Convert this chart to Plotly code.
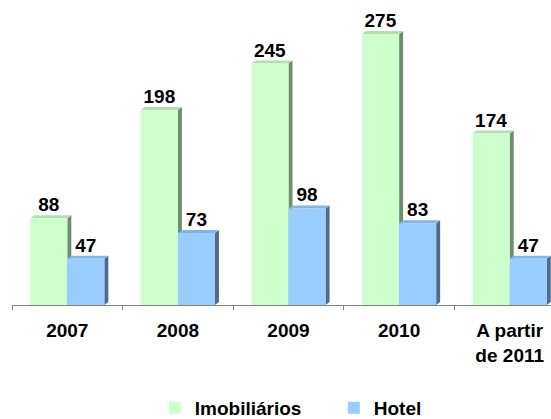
import plotly.graph_objects as go

# Chart data
categories = ["2007", "2008", "2009", "2010", "A partir<br>de 2011"]
imobiliarios = [88, 198, 245, 275, 174]
hotel = [47, 73, 98, 83, 47]

series_names = ["Imobiliários", "Hotel"]
face_colors = ["#CCFFCC", "#99CCFF"]
side_colors = ["#6F8C6F", "#50698C"]
top_colors = ["#B4DDB4", "#86B4E0"]

FONT = "Liberation Sans, Arial, sans-serif"

W, H = 551, 419
margin = dict(l=12, r=0, t=0, b=114, autoexpand=False)
plot_w = W - margin["l"] - margin["r"]
plot_h = H - margin["t"] - margin["b"]

cat_px = 110.6                      # width of one category in pixels
x_range = [-0.5, -0.5 + plot_w / cat_px]
y_range = [0, 309.5]
bargap = 0.33
bar_w = (1 - bargap) / 2            # width of one bar in category units

# depth of the pseudo-3D extrusion, in data units
dx = 4 / cat_px
dy = 3 * (y_range[1] - y_range[0]) / plot_h

fig = go.Figure()
for name, vals, col in zip(series_names, [imobiliarios, hotel], face_colors):
    fig.add_trace(go.Bar(
        name=name, x=categories, y=vals,
        marker=dict(color=col, line=dict(width=0)),
        text=[str(v) for v in vals], textposition="outside",
        textfont=dict(family=FONT, size=19, color="#000000", weight="bold"),
        constraintext="none", cliponaxis=False,
    ))

# side and top faces of each bar
shapes = []
for k, vals in enumerate([imobiliarios, hotel]):
    for j, v in enumerate(vals):
        x_l = j - bar_w + k * bar_w
        x_r = x_l + bar_w
        side = (f"M{x_r},0 L{x_r},{v} L{x_r + dx},{v + dy} "
                f"L{x_r + dx},{dy} Z")
        top = (f"M{x_l},{v} L{x_l + dx},{v + dy} L{x_r + dx},{v + dy} "
               f"L{x_r},{v} Z")
        shapes.append(dict(type="path", path=side, xref="x", yref="y",
                           fillcolor=side_colors[k], line=dict(width=0),
                           layer="below"))
        shapes.append(dict(type="path", path=top, xref="x", yref="y",
                           fillcolor=top_colors[k], line=dict(width=0),
                           layer="below"))

fig.update_layout(
    width=W, height=H, margin=margin,
    paper_bgcolor="white", plot_bgcolor="white",
    barmode="group", bargap=bargap, bargroupgap=0,
    shapes=shapes,
    showlegend=True,
    legend=dict(
        orientation="h", x=0.597, xanchor="center",
        y=-(408 - plot_h) / plot_h, yanchor="middle",
        font=dict(family=FONT, size=19, color="#000000", weight="bold"),
        entrywidth=134, entrywidthmode="pixels",
        bgcolor="rgba(0,0,0,0)",
    ),
    xaxis=dict(
        type="category", range=x_range, fixedrange=True,
        showline=True, linecolor="#808080", linewidth=1,
        ticks="outside", tickson="boundaries", ticklen=4,
        tickcolor="#808080", showgrid=False, zeroline=False,
        ticklabelstandoff=8,
        tickfont=dict(family=FONT, size=19, color="#000000", weight="bold"),
    ),
    yaxis=dict(range=y_range, visible=False, fixedrange=True),
)

fig.write_html("out.html")
